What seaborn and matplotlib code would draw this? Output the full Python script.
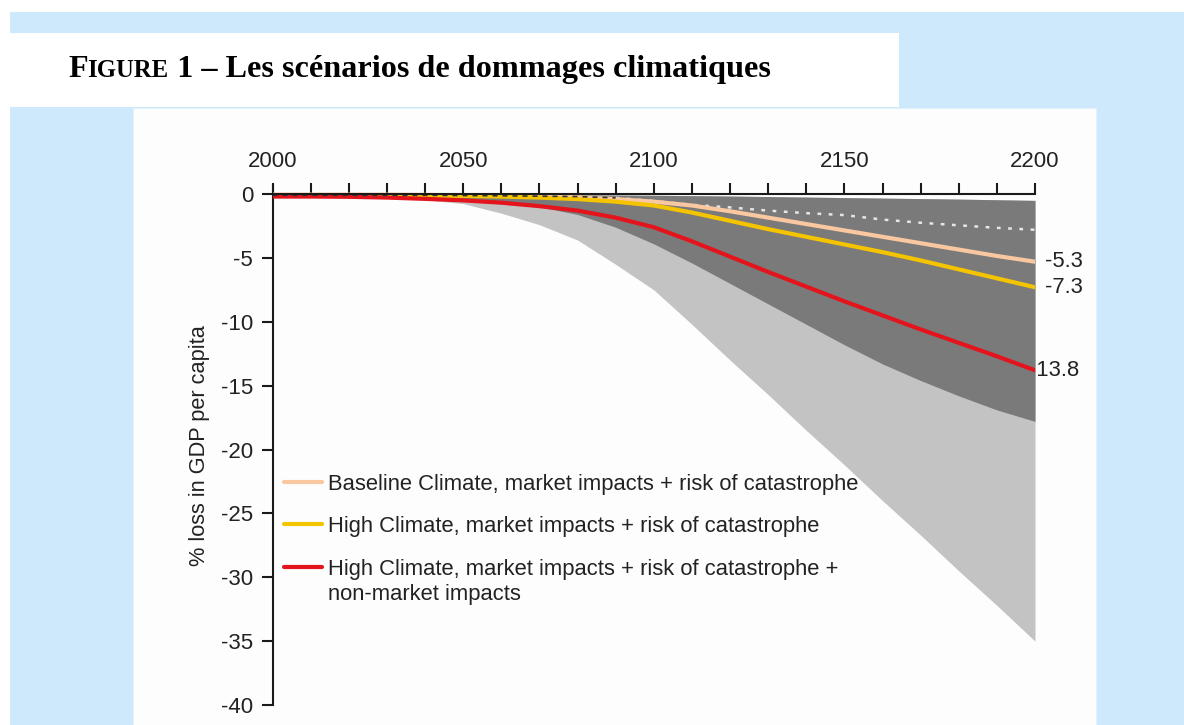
import matplotlib
matplotlib.use("Agg")
import matplotlib.pyplot as plt
import pandas as pd
import seaborn as sns
from matplotlib.patches import Rectangle
from matplotlib.lines import Line2D
from matplotlib.ticker import MultipleLocator

# ---- data: % loss in GDP per capita, 2000-2200 ----
years = list(range(2000, 2201, 10))

baseline_market_cat = [-0.05, -0.05, -0.05, -0.05, -0.07, -0.10, -0.13, -0.18, -0.25, -0.40,
                       -0.60, -0.90, -1.35, -1.85, -2.35, -2.85, -3.35, -3.85, -4.35, -4.85, -5.3]
high_market_cat = [-0.10, -0.10, -0.10, -0.10, -0.12, -0.15, -0.20, -0.28, -0.40, -0.60,
                   -0.90, -1.45, -2.10, -2.75, -3.35, -3.95, -4.55, -5.20, -5.90, -6.60, -7.3]
high_market_cat_nonmarket = [-0.20, -0.20, -0.22, -0.28, -0.38, -0.50, -0.68, -0.95, -1.30, -1.85,
                             -2.60, -3.70, -4.90, -6.10, -7.25, -8.40, -9.50, -10.60, -11.65, -12.70, -13.8]

# uncertainty ranges
range_upper = [-0.02, -0.02, -0.02, -0.02, -0.02, -0.03, -0.04, -0.05, -0.06, -0.08,
               -0.10, -0.13, -0.16, -0.20, -0.24, -0.28, -0.32, -0.36, -0.40, -0.45, -0.5]
range_inner_lower = [-0.20, -0.20, -0.25, -0.30, -0.40, -0.50, -0.70, -1.00, -1.60, -2.60,
                     -3.90, -5.40, -7.00, -8.60, -10.20, -11.80, -13.30, -14.60, -15.80, -16.90, -17.8]
range_outer_lower = [-0.20, -0.20, -0.25, -0.35, -0.45, -0.75, -1.50, -2.40, -3.60, -5.50,
                     -7.50, -10.20, -13.00, -15.70, -18.50, -21.20, -24.00, -26.70, -29.50, -32.20, -35.0]

# market impacts only (dotted)
market_only = [-0.10, -0.10, -0.10, -0.10, -0.10, -0.12, -0.14, -0.17, -0.20, -0.30,
               -0.55, -0.85, -1.05, -1.30, -1.50, -1.65, -2.00, -2.25, -2.45, -2.65, -2.8]

series_labels = [
    "Baseline Climate, market impacts + risk of catastrophe",
    "High Climate, market impacts + risk of catastrophe",
    "High Climate, market impacts + risk of catastrophe +\nnon-market impacts",
]
series_values = [baseline_market_cat, high_market_cat, high_market_cat_nonmarket]
series_colors = ["#f9c7a0", "#f5c400", "#e3141c"]

x_ticks_major = [2000, 2050, 2100, 2150, 2200]
y_ticks = [0, -5, -10, -15, -20, -25, -30, -35, -40]

# ---- figure ----
W, H = 1184, 725
sns.set_theme(style="white")
plt.rcParams["font.family"] = ["Liberation Sans", "DejaVu Sans"]
plt.rcParams["axes.unicode_minus"] = False

fig = plt.figure(figsize=(W / 100, H / 100), dpi=100)
fig.patch.set_facecolor("white")


def px_rect(x0, y0, x1, y1, color, z, edge="none"):
    fig.add_artist(Rectangle((x0 / W, 1 - y1 / H), (x1 - x0) / W, (y1 - y0) / H,
                             transform=fig.transFigure, facecolor=color,
                             edgecolor=edge, linewidth=0.8, zorder=z))


px_rect(10, 12, W, H, "#cee9fc", -10)            # page background
px_rect(10, 33, 899, 107, "white", -9)            # title band
px_rect(133, 108, 1096, H + 2, "#fdfdfd", -9, edge="#e4f2fc")   # chart panel

# axes: 2000 -> x=272.5px, 2200 -> x=1035px ; 0 -> y=194px, -40 -> y=705px
y_top = 0.6
px_per_unit = (705 - 194) / 40
top_px = 194 - y_top * px_per_unit
ax = fig.add_axes([272.5 / W, (H - 705) / H, (1035 - 272.5) / W, (705 - top_px) / H])
ax.set_facecolor("none")
ax.set_xlim(2000, 2200)
ax.set_ylim(-40, y_top)

# shaded ranges
ax.fill_between(years, range_upper, range_outer_lower, color="#c3c3c3", linewidth=0, zorder=1)
ax.fill_between(years, range_upper, range_inner_lower, color="#7a7a7a", linewidth=0, zorder=1.1)

# market-only line: dark dashes over white, light dots over the grey range
split = years.index(2090)
ax.plot(years[:split + 1], market_only[:split + 1], color="#333333", lw=1.2,
        ls=(0, (3, 3)), zorder=3.5)
ax.plot(years[split:], market_only[split:], color="#e6e6e6", lw=1.8,
        ls=(0, (1.5, 3)), zorder=2)

# scenario lines
df = pd.DataFrame({
    "year": years * 3,
    "loss": sum(series_values, []),
    "scenario": sum([[lab] * len(years) for lab in series_labels], []),
})
sns.lineplot(data=df, x="year", y="loss", hue="scenario", hue_order=series_labels,
             palette=series_colors, linewidth=3.0, legend=False, ax=ax, zorder=3)
ax.set_xlabel("")

# end-of-period value labels
label_kw = dict(textcoords="offset pixels", va="center", ha="left", fontsize=15.8,
                color="#222222", annotation_clip=False)
ax.annotate(f"{baseline_market_cat[-1]:.1f}", xy=(2200, baseline_market_cat[-1]),
            xytext=(10, 0), zorder=4, **label_kw)
ax.annotate(f"{high_market_cat[-1]:.1f}", xy=(2200, high_market_cat[-1]),
            xytext=(10, 0), zorder=4, **label_kw)
ax.annotate(f"{high_market_cat_nonmarket[-1]:.1f}", xy=(2200, high_market_cat_nonmarket[-1]),
            xytext=(-6, 0), zorder=0.5, **label_kw)

# axes styling
for side in ("right", "bottom"):
    ax.spines[side].set_visible(False)
ax.spines["top"].set_position(("data", 0))
for side in ("top", "left"):
    ax.spines[side].set_color("#1a1a1a")
    ax.spines[side].set_linewidth(1.5)
ax.spines["top"].set_zorder(5)

ax.xaxis.tick_top()
ax.set_xticks(x_ticks_major)
ax.set_xticklabels([str(y) for y in x_ticks_major])
ax.xaxis.set_minor_locator(MultipleLocator(10))
ax.tick_params(axis="x", which="both", direction="out", length=8, width=1.5,
               color="#1a1a1a", pad=8, labelsize=16, labelcolor="#222222")
ax.set_yticks(y_ticks)
ax.set_yticklabels([str(v) for v in y_ticks])
ax.tick_params(axis="y", which="major", direction="out", length=8, width=1.5,
               color="#1a1a1a", pad=6, labelsize=16, labelcolor="#222222", left=True)
ax.grid(False)

ax.set_ylabel("% loss in GDP per capita", fontsize=15.7, color="#222222", va="center")
ax.yaxis.set_label_coords((200 - 272.5) / 762.5, (705 - 446) / (705 - top_px))

# legend
legend_rows_y = [482, 524, 567]
line_gap = 25
for lab, col, yy in zip(series_labels, series_colors, legend_rows_y):
    fig.add_artist(Line2D([284 / W, 322 / W], [1 - yy / H, 1 - yy / H],
                          transform=fig.transFigure, color=col, lw=3.0, zorder=6))
    for k, part in enumerate(lab.split("\n")):
        fig.text(328 / W, 1 - (yy + 8 + k * line_gap) / H, part, fontsize=15.8,
                 color="#222222", va="baseline", ha="left", zorder=6)

# title with small capitals
renderer = fig.canvas.get_renderer()
title_parts = [("F", 23.2), ("IGURE", 17.8), (" 1 – Les scénarios de dommages climatiques", 23.2)]
x_px = 68
for txt, size in title_parts:
    t = fig.text(x_px / W, 1 - 77 / H, txt, fontsize=size, fontweight="bold",
                 family=["Liberation Serif", "DejaVu Serif"], color="black",
                 va="baseline", ha="left", zorder=6)
    bb = t.get_window_extent(renderer)
    x_px = bb.x1

fig.savefig("out.png", dpi=100)
